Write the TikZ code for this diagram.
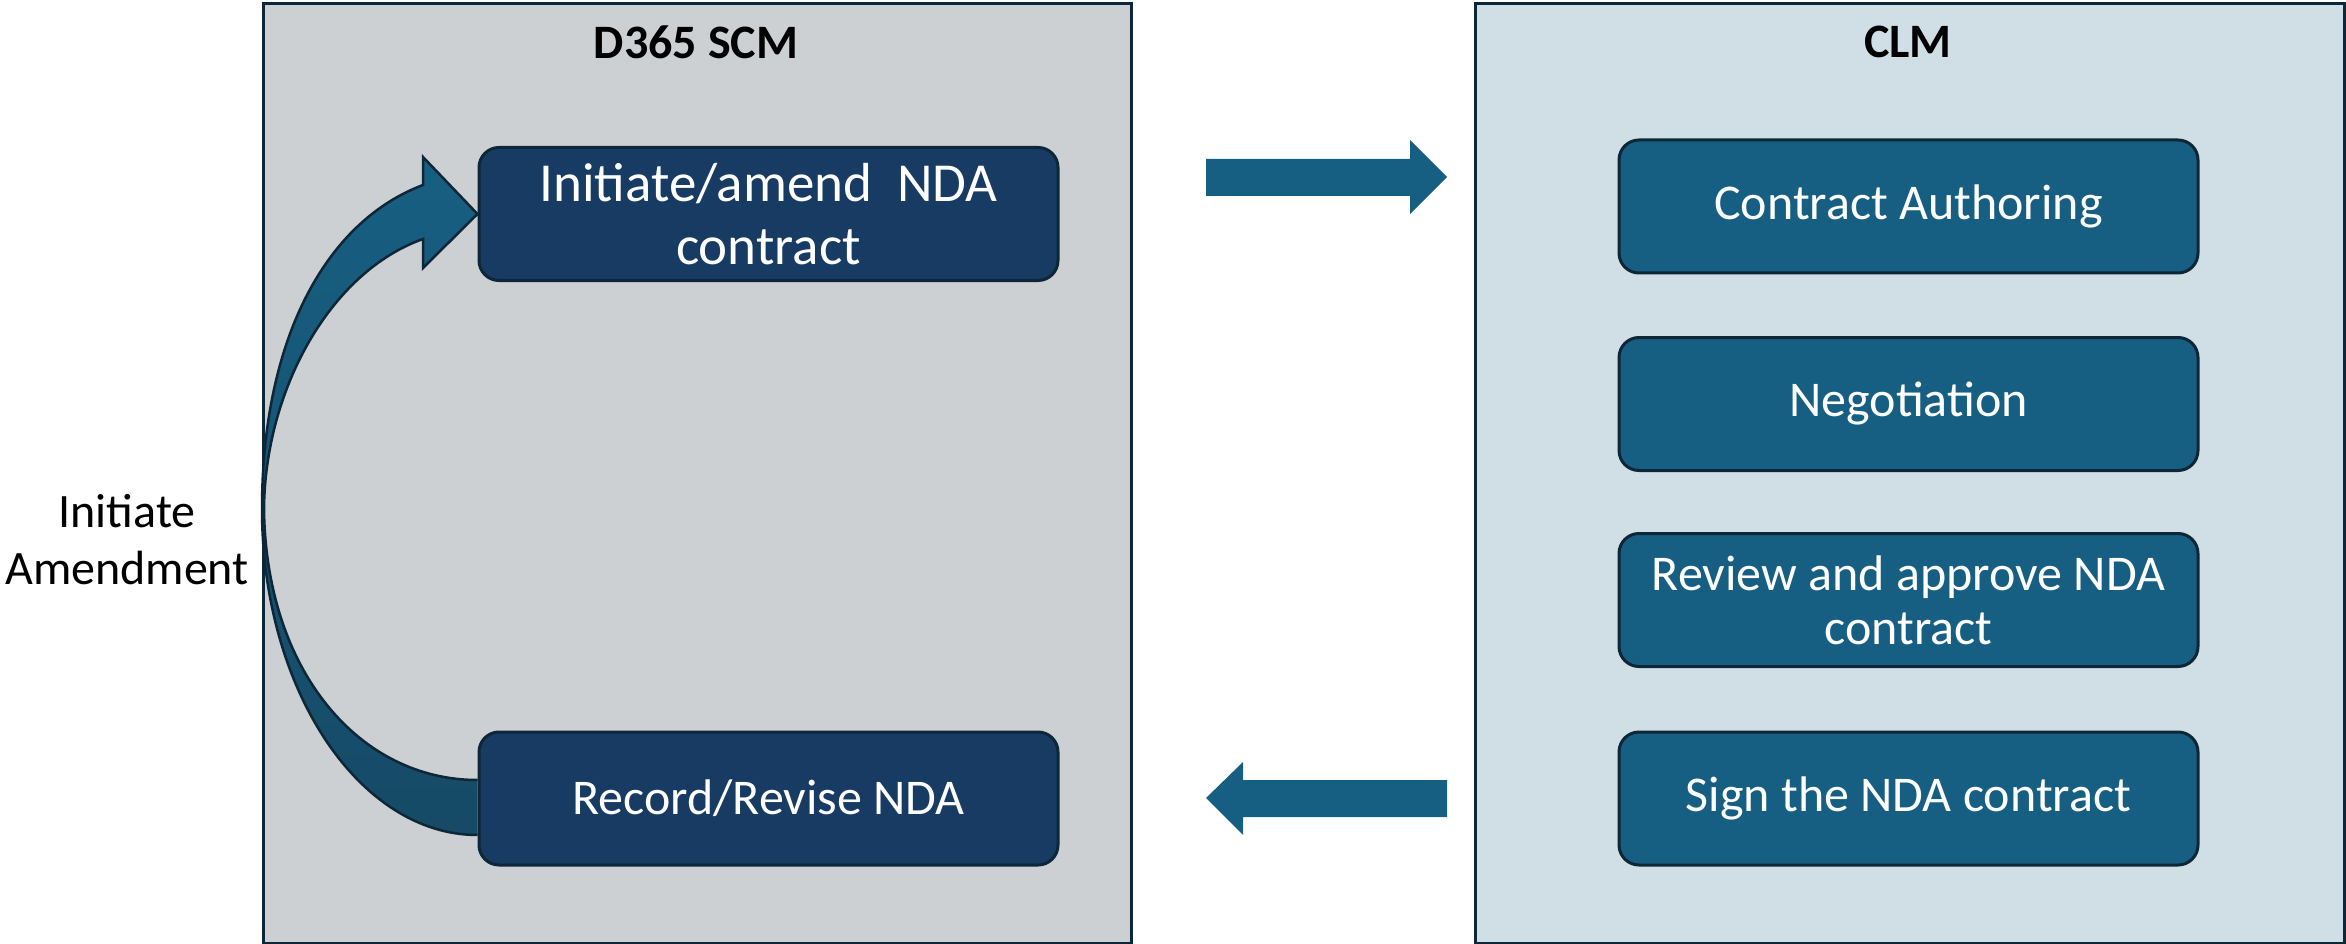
\documentclass[tikz,border=0pt]{standalone}
\usepackage{fontspec}
\setmainfont{Carlito}
\definecolor{panelL}{HTML}{CCD0D2}
\definecolor{panelR}{HTML}{D0DFE6}
\definecolor{edge}{HTML}{0E2738}
\definecolor{navy}{HTML}{173B62}
\definecolor{teal}{HTML}{175F82}
\definecolor{tealdark}{HTML}{164A66}
\begin{document}
\begin{tikzpicture}[x=1pt,y=-1pt,
  panel/.style={draw=edge,line width=3pt,minimum width=#1,anchor=north west,inner sep=0pt},
  title/.style={font=\bfseries\fontsize{48}{54}\selectfont,text=black},
  dbox/.style={draw=edge,line width=3pt,rounded corners=20pt,fill=navy,text=white,
    minimum width=579pt,minimum height=133pt,align=center,inner sep=0pt,
    font=\fontsize{50}{54}\selectfont},
  cbox/.style={dbox,fill=teal}]
\useasboundingbox (0,0) rectangle (2346,944);
% panels
\node[panel=868pt,fill=panelL,minimum height=940pt] (scm) at (262,2) {};
\node[panel=869pt,fill=panelR,minimum height=940pt] (clm) at (1474,2) {};
\node[title] (scmt) at (696,42) {D365 SCM};
\node[title] (clmt) at (1908,42) {CLM};
% left boxes
\node[dbox,font=\fontsize{55}{63}\selectfont] (init) at (768.5,214) {Initiate/amend\ \ NDA\\contract};
\node[dbox] (rec) at (768.5,798.5) {Record/Revise NDA};
% right boxes
\node[cbox] (auth) at (1908.5,206.5) {Contract Authoring};
\node[cbox] (neg) at (1908.5,404) {Negotiation};
\node[cbox] (rev) at (1908.5,600) {Review and approve NDA\\contract};
\node[cbox] (sign) at (1908.5,798.5) {Sign the NDA contract};
% straight block arrows
\fill[teal] (1206,159) -- (1410,159) -- (1410,140) -- (1447,177) -- (1410,214) -- (1410,196) -- (1206,196) -- cycle;
\fill[teal] (1447,780) -- (1243,780) -- (1243,762) -- (1206,798) -- (1243,835) -- (1243,817) -- (1447,817) -- cycle;
% curved arrow
\coordinate (tip) at (init.west);
\path[draw=edge,line width=2.5pt,line join=miter,top color=teal,bottom color=tealdark,shading angle=0]
  (rec.west |- 0,835) .. controls (359,835) and (262,689) .. (262,509)
  .. controls (262,340) and (325,222) .. (423,185)
  -- (423,157) -- (tip) -- (423,268) -- (423,239)
  .. controls (330,272) and (265,390) .. (264,509)
  .. controls (266,672) and (360,780) .. (rec.west |- 0,780);
\node[font=\fontsize{48}{57}\selectfont,align=center] (amend) at (127,540) {Initiate\\Amendment};
\end{tikzpicture}
\end{document}
